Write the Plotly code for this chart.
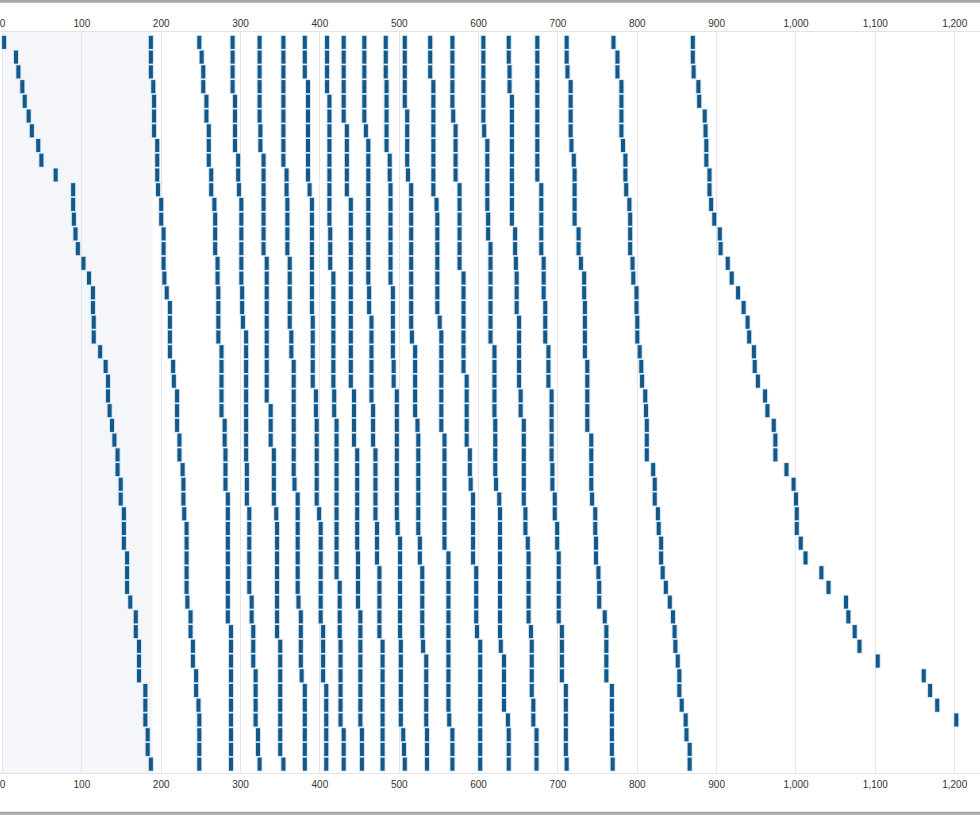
import plotly.graph_objects as go

# Row positions (1 = top row)
rows = list(range(1, 51))

# Sorted values laid out column by column (each column = 50 consecutive rows)
c01 = [2, 17, 20, 25, 28, 33, 37, 45, 49, 67, 89, 89, 90, 92, 95, 102, 109, 114, 114, 115,
       115, 123, 130, 133, 133, 135, 138, 141, 145, 145, 149, 149, 153, 153, 153, 157, 157, 157, 161, 168,
       168, 172, 172, 172, 180, 180, 180, 183, 183, 187]
c02 = [187, 187, 187, 190, 191, 191, 191, 195, 195, 195, 196, 200, 200, 203, 203, 203, 204, 207, 211, 211,
       211, 211, 215, 216, 220, 220, 220, 223, 223, 227, 228, 228, 229, 232, 232, 232, 232, 232, 233, 237,
       237, 240, 240, 244, 244, 247, 248, 248, 248, 248]
c03 = [248, 251, 253, 253, 257, 257, 260, 260, 260, 263, 263, 267, 268, 268, 268, 271, 271, 272, 272, 272,
       272, 276, 276, 276, 276, 276, 280, 280, 281, 281, 281, 284, 284, 284, 284, 284, 284, 284, 284, 284,
       288, 288, 288, 288, 288, 288, 288, 288, 288, 288]
c04 = [290, 290, 290, 290, 293, 293, 293, 293, 297, 297, 298, 301, 301, 301, 301, 301, 301, 302, 302, 303,
       307, 307, 307, 307, 307, 307, 307, 307, 307, 308, 308, 308, 311, 311, 311, 311, 311, 311, 314, 314,
       316, 316, 316, 319, 319, 319, 319, 322, 322, 324]
c05 = [324, 324, 324, 324, 324, 324, 325, 325, 329, 329, 329, 329, 329, 329, 329, 333, 333, 333, 333, 333,
       333, 333, 333, 333, 333, 338, 338, 338, 342, 342, 342, 342, 345, 346, 346, 346, 346, 346, 346, 346,
       346, 350, 350, 350, 350, 350, 350, 350, 350, 354]
c06 = [354, 354, 354, 354, 354, 354, 354, 354, 354, 358, 358, 359, 359, 359, 359, 362, 362, 362, 362, 362,
       364, 364, 367, 367, 367, 367, 367, 367, 367, 367, 368, 372, 372, 372, 372, 372, 372, 372, 373, 376,
       376, 376, 376, 377, 381, 381, 381, 381, 381, 381]
c07 = [381, 381, 381, 385, 385, 385, 385, 385, 385, 385, 387, 390, 390, 390, 390, 390, 390, 390, 390, 391,
       391, 391, 391, 391, 395, 395, 396, 396, 396, 396, 396, 396, 399, 401, 401, 401, 401, 401, 401, 401,
       404, 404, 404, 404, 408, 408, 408, 408, 408, 408]
c08 = [409, 409, 409, 409, 412, 412, 412, 412, 412, 412, 412, 412, 412, 413, 413, 413, 417, 417, 417, 417,
       417, 417, 417, 417, 418, 418, 421, 421, 421, 421, 421, 421, 421, 421, 421, 421, 421, 425, 425, 425,
       425, 426, 426, 426, 426, 426, 426, 430, 430, 430]
c09 = [430, 430, 430, 430, 430, 430, 434, 434, 434, 434, 434, 439, 439, 439, 439, 439, 439, 439, 439, 439,
       439, 439, 439, 439, 443, 443, 443, 443, 447, 447, 447, 447, 447, 447, 447, 448, 448, 448, 448, 451,
       451, 451, 451, 451, 451, 451, 451, 453, 453, 453]
c10 = [456, 456, 456, 456, 456, 456, 458, 461, 461, 461, 461, 461, 461, 461, 461, 461, 461, 462, 462, 465,
       465, 465, 465, 465, 465, 467, 467, 467, 470, 470, 470, 470, 470, 472, 472, 472, 475, 475, 475, 475,
       475, 479, 479, 479, 479, 479, 479, 479, 479, 479]
c11 = [483, 483, 483, 484, 484, 484, 484, 484, 488, 488, 489, 489, 489, 489, 489, 489, 489, 492, 492, 492,
       492, 492, 493, 493, 497, 497, 497, 497, 497, 497, 497, 497, 497, 498, 501, 501, 501, 501, 501, 501,
       501, 502, 502, 502, 502, 502, 502, 505, 506, 507]
c12 = [507, 507, 507, 507, 507, 510, 510, 510, 510, 511, 515, 515, 515, 515, 515, 515, 515, 515, 515, 515,
       516, 520, 520, 520, 520, 520, 523, 524, 524, 524, 524, 524, 524, 524, 526, 526, 529, 529, 529, 529,
       529, 530, 534, 534, 534, 534, 534, 535, 535, 535]
c13 = [539, 539, 539, 543, 543, 543, 543, 543, 543, 543, 543, 547, 548, 548, 548, 548, 548, 548, 548, 551,
       553, 553, 553, 553, 553, 553, 553, 557, 557, 557, 557, 557, 557, 557, 557, 562, 562, 562, 562, 562,
       562, 562, 562, 562, 562, 562, 563, 567, 567, 567]
c14 = [567, 567, 567, 567, 567, 568, 571, 571, 571, 571, 576, 576, 576, 576, 576, 576, 581, 581, 581, 581,
       581, 581, 581, 585, 585, 585, 585, 585, 589, 589, 590, 593, 593, 593, 593, 593, 597, 597, 597, 597,
       598, 602, 602, 602, 602, 602, 602, 602, 602, 602]
c15 = [606, 606, 606, 606, 606, 606, 607, 611, 611, 611, 611, 611, 612, 612, 615, 615, 615, 615, 615, 615,
       615, 620, 620, 620, 620, 620, 621, 621, 621, 621, 622, 626, 627, 627, 627, 627, 627, 627, 627, 627,
       627, 628, 632, 632, 632, 632, 637, 638, 638, 638]
c16 = [638, 638, 639, 639, 642, 642, 642, 642, 642, 642, 642, 642, 642, 646, 646, 647, 648, 648, 648, 651,
       651, 651, 651, 651, 653, 653, 657, 657, 657, 657, 657, 657, 659, 659, 662, 663, 663, 663, 663, 663,
       666, 667, 667, 667, 667, 669, 669, 673, 673, 673]
c17 = [674, 674, 674, 674, 674, 674, 674, 674, 674, 674, 679, 679, 679, 679, 679, 682, 682, 682, 684, 684,
       684, 688, 688, 688, 692, 692, 692, 692, 692, 693, 693, 696, 696, 699, 699, 701, 701, 701, 701, 701,
       705, 705, 705, 705, 710, 710, 710, 710, 710, 711]
c18 = [711, 711, 712, 716, 716, 716, 716, 717, 720, 721, 721, 721, 721, 726, 726, 729, 733, 733, 734, 734,
       734, 734, 737, 737, 737, 737, 737, 742, 742, 742, 742, 743, 747, 747, 748, 748, 751, 752, 752, 759,
       761, 761, 761, 761, 768, 768, 768, 768, 768, 769]
c19 = [770, 775, 775, 780, 780, 780, 780, 782, 785, 785, 786, 790, 791, 791, 791, 794, 795, 799, 799, 800,
       800, 803, 805, 806, 810, 811, 812, 812, 812, 820, 822, 822, 826, 827, 830, 830, 832, 836, 841, 845,
       847, 848, 851, 853, 853, 856, 861, 862, 866, 866]
c20 = [870, 870, 871, 877, 878, 885, 886, 887, 887, 891, 891, 893, 897, 904, 905, 914, 919, 927, 934, 939,
       941, 947, 948, 952, 961, 964, 972, 974, 974, 988, 997, 1000, 1001, 1001, 1006, 1012, 1032, 1041, 1063, 1066,
       1074, 1080, 1103, 1161, 1169, 1178, 1202]

columns = [c01, c02, c03, c04, c05, c06, c07, c08, c09, c10,
           c11, c12, c13, c14, c15, c16, c17, c18, c19, c20]

highlight_range = [0, 189]
tick_values = list(range(0, 1201, 100))

xs, ys = [], []
for col in columns:
    xs.extend(col)
    ys.extend(rows[:len(col)])

MARK = "#12598b"
fig = go.Figure()
# soft outline under marks (line symbols are drawn 1.4x marker size long)
fig.add_trace(go.Scatter(
    x=xs, y=ys, mode="markers", hoverinfo="skip", showlegend=False,
    marker=dict(symbol="line-ns", size=10.4, line=dict(width=6, color="#d3e2ee")),
))
fig.add_trace(go.Scatter(
    x=xs, y=ys, mode="markers", showlegend=False,
    marker=dict(symbol="line-ns", size=9.3, line=dict(width=4, color=MARK)),
))
# invisible trace for top axis
fig.add_trace(go.Scatter(x=[0, 1200], y=[1, 1], xaxis="x2", mode="markers",
                         marker=dict(opacity=0), hoverinfo="skip", showlegend=False))

xrange = [-3.15, 1231.9]
axis_common = dict(
    range=xrange, tickvals=tick_values, tickformat=",", showgrid=True,
    gridcolor="#e6e6e6", gridwidth=1, zeroline=False, ticks="", automargin=False,
    ticklabelstandoff=2, ticklabeloverflow="allow",
    tickfont=dict(family="Arial, Liberation Sans, sans-serif", size=10, color="#333333"),
)
fig.update_layout(
    width=980, height=815,
    margin=dict(l=0, r=0, t=32, b=42),
    plot_bgcolor="white", paper_bgcolor="white",
    xaxis=dict(**axis_common, side="bottom", showline=True, linecolor="#e3e3e3",
               mirror=True, linewidth=1),
    xaxis2=dict(**axis_common, side="top", overlaying="x", anchor="y"),
    yaxis=dict(range=[50.6, 0.294], showgrid=False, zeroline=False, automargin=False,
               showticklabels=False, ticks="", showline=False),
    shapes=[
        dict(type="rect", xref="x", yref="paper", x0=highlight_range[0], x1=highlight_range[1],
             y0=0, y1=1, fillcolor="#f4f6f9", line=dict(width=0), layer="below"),
        dict(type="line", xref="paper", yref="paper", x0=0, x1=1,
             y0=1 + 30.8 / 741, y1=1 + 30.8 / 741, line=dict(color="#a6a6a6", width=3)),
        dict(type="line", xref="paper", yref="paper", x0=0, x1=1,
             y0=-40.3 / 741, y1=-40.3 / 741, line=dict(color="#a6a6a6", width=3)),
    ],
)
fig.write_html(
    "out.html",
    config={"displayModeBar": False},
    post_script="document.body.style.margin='0';document.body.style.overflow='hidden';",
)
